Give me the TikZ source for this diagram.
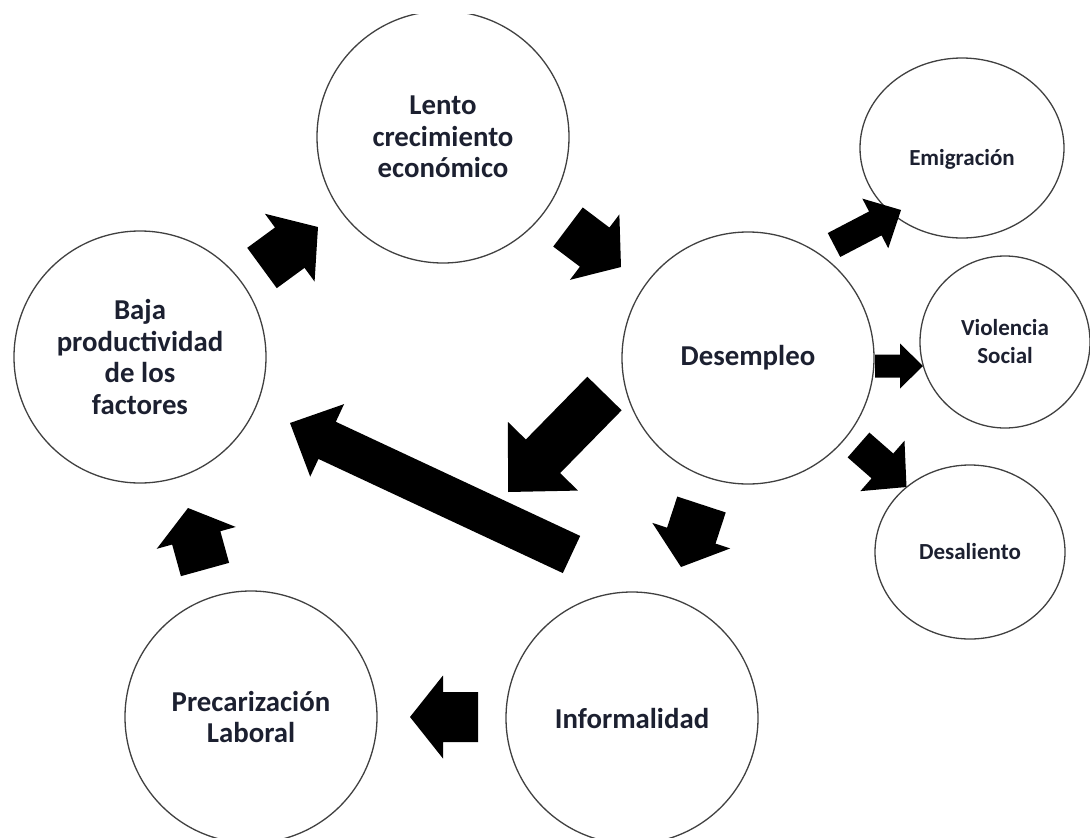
\documentclass[tikz,border=0pt]{standalone}
\usepackage{fontspec}
\setmainfont{Carlito}
\usepackage{xcolor}
\usetikzlibrary{shapes.geometric}
\usetikzlibrary{calc}
\definecolor{ink}{RGB}{28,32,48}

\begin{document}
\begin{tikzpicture}[x=1pt,y=-1pt,
    bigcirc/.style={circle,draw=black!75,line width=1.3pt,inner sep=0pt,minimum size=252pt,
        align=center,text=ink,font=\bfseries\fontsize{28.8}{31.7}\selectfont},
    smallcirc/.style={ellipse,draw=black!75,line width=1.3pt,inner sep=0pt},
    smalltxt/.style={align=center,text=ink,font=\bfseries\fontsize{23}{28}\selectfont},
    blockarrow/.style={fill=black}]
  \useasboundingbox (0,0) rectangle (1090,838);
  \clip (0,14) rectangle (1090,838);
  % the five big circles
  \node[bigcirc] (baja) at (140,357) {Baja\\productividad\\de los\\factores};
  \node[bigcirc] (lento) at (443,137) {Lento\\crecimiento\\económico};
  \node[bigcirc] (desemp) at (748,358) {Desempleo};
  \node[bigcirc] (inform) at (632,718) {Informalidad};
  \node[bigcirc] (precar) at (251,717) {Precarización\\Laboral};
  % the three small ones
  \node[smallcirc,minimum width=204pt,minimum height=180pt] (emigr) at (962,148) {};
  \node[smalltxt] (emigr-txt) at ([yshift=-11pt]emigr.center) {Emigración};
  \node[smallcirc,minimum width=170pt,minimum height=172pt] (violen) at (1005,342) {};
  \node[smalltxt] (violen-txt) at (violen.center) {Violencia\\Social};
  \node[smallcirc,minimum width=190pt,minimum height=174pt] (desal) at (970,552) {};
  \node[smalltxt] (desal-txt) at (desal.center) {Desaliento};
  % block arrows: tail, tip, half shaft, half head, head length
  \foreach \n/\sx/\sy/\ex/\ey/\w/\hw/\hl in {
      1/262/268/318/227/25pt/42pt/35pt,
      2/568/227/621/267/24.5pt/41pt/33pt,
      3/834/245/901/210/13.5pt/28pt/29pt,
      4/875/366/923/366/11.5pt/22.5pt/23pt,
      5/858.5/445/906.5/487/16.5pt/33.5pt/32pt,
      6/701.5/504.5/681/567/25.5pt/41pt/33pt,
      7/478/717/410/717/25pt/41.5pt/33pt,
      8/205/569.5/188/508/25pt/41pt/31pt,
      9/571.5/554.5/290/423/20.5pt/40pt/41pt,
      10/604.5/393.5/508/492/24pt/49pt/50pt
  }{
    \coordinate (s\n) at (\sx,\sy);
    \coordinate (e\n) at (\ex,\ey);
    \coordinate (b\n) at ($(e\n)!\hl!(s\n)$);
    \fill[blockarrow] ($(s\n)!\w!90:(e\n)$) -- ($(b\n)!\w!-90:(s\n)$)
      -- ($(b\n)!\hw!-90:(s\n)$) -- (e\n) -- ($(b\n)!\hw!90:(s\n)$)
      -- ($(b\n)!\w!90:(s\n)$) -- ($(s\n)!\w!-90:(e\n)$) -- cycle;
  }
\end{tikzpicture}
\end{document}
